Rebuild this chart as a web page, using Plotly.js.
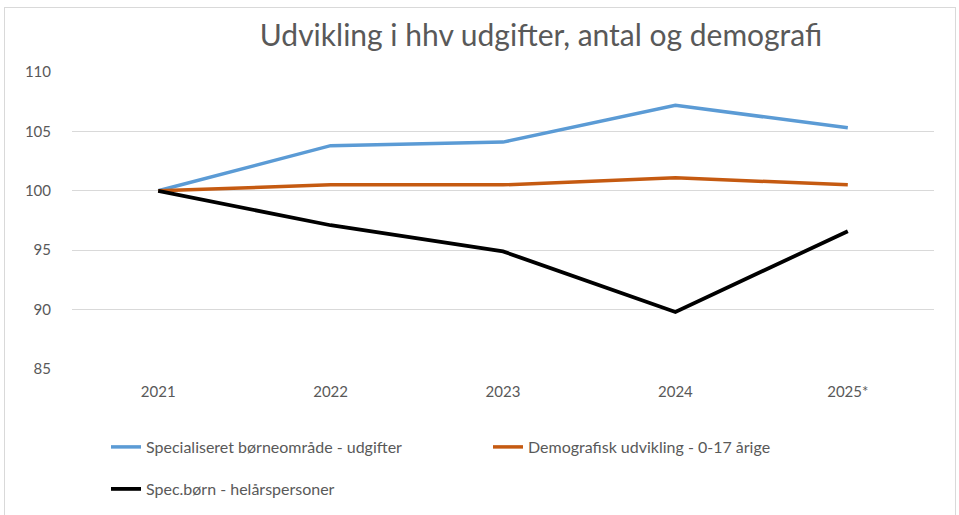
<!DOCTYPE html>
<html>
<head>
<meta charset="utf-8">
<script src="https://cdn.plot.ly/plotly-3.0.1.min.js"></script>
<style>
html,body{margin:0;padding:0;background:#fff;}
#chart{width:959px;height:515px;position:absolute;left:0;top:0;}
#frame{position:absolute;left:4px;top:7px;width:950px;height:520px;border:1px solid #d9d9d9;pointer-events:none;}
</style>
</head>
<body>
<div id="chart"></div>
<div id="frame"></div>
<script>
const years = ["2021", "2022", "2023", "2024", "2025*"];
const udgifter = [100, 103.8, 104.1, 107.2, 105.3];
const demografi = [100, 100.5, 100.5, 101.1, 100.5];
const helaar = [100, 97.1, 94.9, 89.8, 96.6];
const names = ["Specialiseret børneområde - udgifter", "Demografisk udvikling - 0-17 årige", "Spec.børn - helårspersoner"];
const colors = ["#5b9bd5", "#c55a11", "#000000"];

const font = "Lato, 'Open Sans', sans-serif";
const traces = [
  {x: years, y: udgifter, name: names[0], type: "scatter", mode: "lines", line: {color: colors[0], width: 3.5}, legend: "legend"},
  {x: years, y: demografi, name: names[1], type: "scatter", mode: "lines", line: {color: colors[1], width: 3.5}, legend: "legend"},
  {x: years, y: helaar, name: names[2], type: "scatter", mode: "lines", line: {color: colors[2], width: 3.8}, legend: "legend2"}
];
const layout = {
  width: 959, height: 515,
  margin: {l: 72, r: 25, t: 72, b: 146},
  paper_bgcolor: "#fff", plot_bgcolor: "#fff",
  font: {family: font, color: "#595959", size: 14},
  title: {text: "Udvikling i hhv udgifter, antal og demografi", font: {family: font, size: 30, color: "#595959"}, x: 541/959, xanchor: "center", y: 1 - 35/515, yref: "container", yanchor: "middle"},
  xaxis: {type: "category", range: [-0.5, 4.5], showgrid: false, zeroline: false, showline: false, ticks: "", tickfont: {size: 15, color: "#595959"}, ticklabelstandoff: 12},
  yaxis: {range: [85, 110], dtick: 5, showgrid: true, gridcolor: "#d9d9d9", gridwidth: 1, zeroline: false, showline: false, ticks: "", tickfont: {size: 15, color: "#595959"}, ticklabelstandoff: 20},
  showlegend: true,
  legend: {orientation: "h", xref: "container", yref: "container", x: 106/959, y: 1 - 447/515, xanchor: "left", yanchor: "middle", font: {size: 16, color: "#595959"}, bgcolor: "rgba(0,0,0,0)", entrywidth: 337, entrywidthmode: "pixels", traceorder: "normal"},
  legend2: {orientation: "h", xref: "container", yref: "container", x: 106/959, y: 1 - 489/515, xanchor: "left", yanchor: "middle", font: {size: 16, color: "#595959"}, bgcolor: "rgba(0,0,0,0)"}
};
Plotly.newPlot("chart", traces, layout, {displayModeBar: false, staticPlot: true});
</script>
</body>
</html>
